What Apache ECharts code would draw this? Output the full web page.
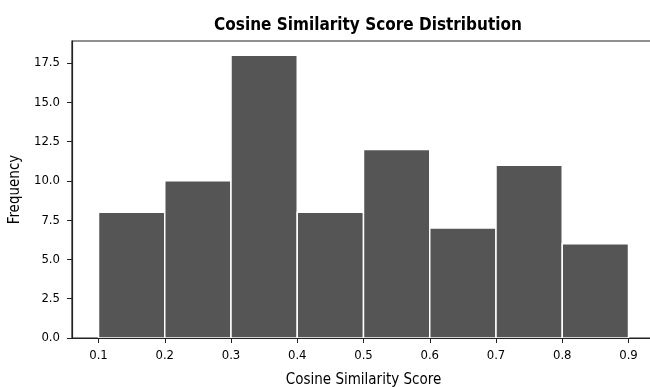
<!DOCTYPE html>
<html>
<head>
<meta charset="utf-8">
<script src="https://cdn.jsdelivr.net/npm/echarts@6/dist/echarts.min.js"></script>
<style>
    html, body { margin: 0; padding: 0; background: #fff; }
    #chart { width: 650px; height: 387px; }
</style>
</head>
<body>
<div id="chart"></div>
<script>
    // histogram bins and counts
    var binEdges = [0.1, 0.2, 0.3, 0.4, 0.5, 0.6, 0.7, 0.8, 0.9];
    var counts = [8, 10, 18, 8, 12, 7, 11, 6];
    var xTicks = [0.1, 0.2, 0.3, 0.4, 0.5, 0.6, 0.7, 0.8, 0.9];
    var yTicks = [0, 2.5, 5, 7.5, 10, 12.5, 15, 17.5];

    var font = "'DejaVu Sans Condensed', 'DejaVu Sans', sans-serif";

    var bins = counts.map(function (c, i) {
        return [binEdges[i], binEdges[i + 1], c];
    });

    var chart = echarts.init(document.getElementById("chart"));
    var option = {
        animation: false,
        title: {
            text: "Cosine Similarity Score Distribution",
            left: 363,
            textAlign: "center",
            top: 12,
            textStyle: { fontFamily: font, fontSize: 17, fontWeight: "bold", color: "#000" }
        },
        // right edge of the axes box sits just past the canvas, as in the picture
        grid: {
            left: 72, top: 41, width: 583, bottom: 49,
            outerBoundsMode: "none",
            show: true, borderColor: "#222", borderWidth: 1.2, backgroundColor: "transparent"
        },
        xAxis: {
            type: "value",
            min: 0.06,
            max: 0.94,
            z: 5,
            name: "Cosine Similarity Score",
            nameLocation: "middle",
            nameGap: 35,
            nameTextStyle: { fontFamily: font, fontSize: 15, color: "#000" },
            splitLine: { show: false },
            axisLine: { lineStyle: { color: "#222", width: 1.2 } },
            axisTick: { length: 5, lineStyle: { color: "#222" }, customValues: xTicks },
            axisLabel: {
                fontFamily: font, fontSize: 13, color: "#000", margin: 11,
                customValues: xTicks,
                formatter: function (v) { return v.toFixed(1); }
            }
        },
        yAxis: {
            type: "value",
            min: 0,
            max: 18.9,
            z: 5,
            name: "Frequency",
            nameLocation: "middle",
            nameGap: 43,
            nameTextStyle: { fontFamily: font, fontSize: 15, color: "#000" },
            splitLine: { show: false },
            axisLine: { show: true, lineStyle: { color: "#222", width: 1.2 } },
            axisTick: { show: true, length: 5, lineStyle: { color: "#222" }, customValues: yTicks },
            axisLabel: {
                fontFamily: font, fontSize: 13, color: "#000", margin: 12,
                customValues: yTicks,
                formatter: function (v) { return v.toFixed(1); }
            }
        },
        series: [{
            type: "custom",
            data: bins,
            encode: { x: [0, 1], y: 2 },
            renderItem: function (params, api) {
                var p0 = api.coord([api.value(0), 0]);
                var p1 = api.coord([api.value(1), api.value(2)]);
                return {
                    type: "rect",
                    shape: { x: p0[0], y: p1[1], width: p1[0] - p0[0], height: p0[1] - p1[1] },
                    style: { fill: "#555555", stroke: "#ffffff", lineWidth: 1.5 }
                };
            }
        }]
    };
    chart.setOption(option);
</script>
</body>
</html>
